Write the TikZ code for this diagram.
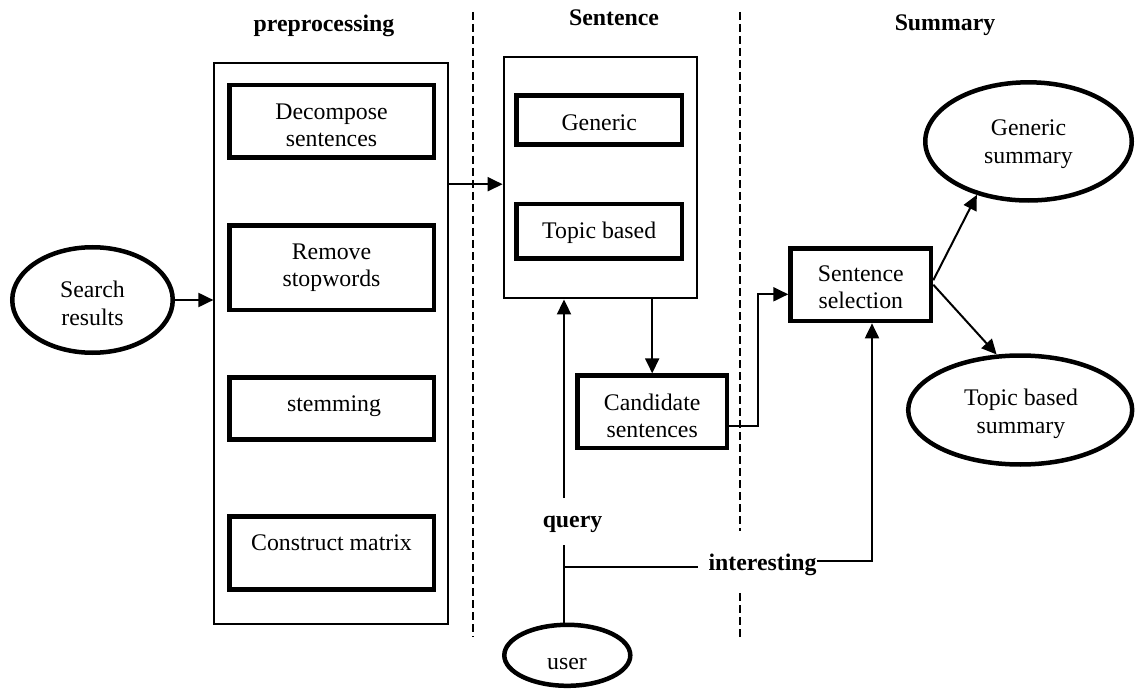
\documentclass[tikz,border=0pt]{standalone}
\usepackage{fontspec}
\setmainfont{Liberation Serif}
\usetikzlibrary{arrows.meta,shapes.geometric,calc}

\begin{document}
\begin{tikzpicture}[x=1pt,y=-1pt,
  font=\fontsize{23.8}{27.5}\selectfont,
  panel/.style={draw, line width=2pt, rectangle, inner sep=0pt},
  stepbox/.style={draw, line width=4.5pt, rectangle, inner sep=0pt},
  oval/.style={draw, line width=4.5pt, ellipse, inner sep=0pt},
  txt/.style={align=center, inner sep=0pt},
  head/.style={font=\fontsize{23.8}{27.5}\selectfont\bfseries, inner sep=0pt},
  wire/.style={line width=2pt},
  link/.style={line width=2pt, -{Triangle[length=15pt,width=14pt]}},
  divider/.style={line width=2pt, dash pattern=on 8pt off 4pt},
]
\useasboundingbox (0,0) rectangle (1136,690);

% column headings
\node[head] (hpre) at (324,26) {preprocessing};
\node[head] (hsen) at (614,18) {Sentence};
\node[head] (hsum) at (945,25) {Summary};

% column separators
\draw[divider] (472.5,12) -- (472.5,637);
\draw[divider] (740,12) -- (740,531);
\draw[divider] (740,593) -- (740,637);

% preprocessing stage
\node[panel, minimum width=234pt, minimum height=561pt] (prep) at (331.4,343.5) {};
\node[stepbox, minimum width=204.5pt, minimum height=72.5pt] (dec) at (331.5,121.5) {};
\node[stepbox, minimum width=204.5pt, minimum height=84.5pt] (rem) at (331.5,267.5) {};
\node[stepbox, minimum width=204.5pt, minimum height=62.2pt] (stem) at (331.5,408.4) {};
\node[stepbox, minimum width=204.5pt, minimum height=73.2pt] (cons) at (331.5,552.9) {};
\node[txt] (dect) at (331.5,125.5) {Decompose\\sentences};
\node[txt] (remt) at (331.5,267.5) {Remove\\stopwords};
\node[txt] (stemt) at (334,406) {stemming};
\node[txt] (const) at (331.5,542.7) {Construct matrix};

% sentence stage
\node[panel, minimum width=193.8pt, minimum height=241.5pt] (sbox) at (600.5,177.7) {};
\node[stepbox, minimum width=165.2pt, minimum height=48.9pt] (gen) at (599.2,120) {};
\node[stepbox, minimum width=165.2pt, minimum height=54.5pt] (top) at (599.2,231.2) {};
\node[stepbox, minimum width=149.1pt, minimum height=72.2pt] (cand) at (652.2,411.7) {};
\node[txt] (gent) at (599.2,122.7) {Generic};
\node[txt] (topt) at (599.2,232.5) {Topic based};
\node[txt] (candt) at (652.2,415.7) {Candidate\\sentences};

% summary stage
\node[stepbox, minimum width=140.5pt, minimum height=72.8pt] (ss) at (860.8,284.7) {};
\node[oval, minimum width=206.5pt, minimum height=118.2pt] (gsum) at (1028.5,141.4) {};
\node[oval, minimum width=224pt, minimum height=109pt] (tsum) at (1020.2,410) {};
\node[txt] (sst) at (860.8,287.2) {Sentence\\selection};
\node[txt] (gsumt) at (1028.5,144.1) {Generic\\summary};
\node[txt] (tsumt) at (1021,413.7) {Topic based\\summary};

% input and user
\node[oval, minimum width=160.5pt, minimum height=105.5pt] (search) at (92.5,300) {};
\node[txt] (searcht) at (92.5,303.5) {Search\\results};
\node[oval, minimum width=126pt, minimum height=61pt] (user) at (567.3,655.3) {};
\node[txt] (usert) at (567,664.4) {user};

\node[head] (query) at (572.5,524) {query};
\node[head] (intr) at (762.5,564.4) {interesting};

% helper points
\coordinate (sin) at ($(sbox.west)+(0,6.5)$);
\coordinate (qtop) at (564,498);
\coordinate (qbot) at (564,545);
\coordinate (qjoin) at (564,567);
\coordinate (ileft) at (698,567);
\coordinate (iturn) at (872,561);
\coordinate (cout) at ($(cand.east)+(0,14.5)$);
\coordinate (cturn) at (758.3,426.2);
\coordinate (ssin) at ($(ss.west)+(0,9.6)$);
\coordinate (ssup) at ($(ss.east)+(0,-4.5)$);

% connectors
\draw[link] (search.east) -- (search.east -| prep.west);
\draw[link] (sin -| prep.east) -- (sin);
\draw[link] (cand.north |- sbox.south) -- (cand.north);
\draw[link] (cout) -- (cturn) |- (ssin);
\draw[link] (ssup) -- (gsum.226);
\draw[link] (ss.east) -- (tsum.113);
\draw[wire] (qbot |- user.north) -- (qbot);
\draw[link] (qtop) -- (qtop |- sbox.south);
\draw[wire] (qjoin) -- (ileft);
\draw[link] (intr.east |- iturn) -- (iturn) -- (iturn |- ss.south);
\end{tikzpicture}
\end{document}
